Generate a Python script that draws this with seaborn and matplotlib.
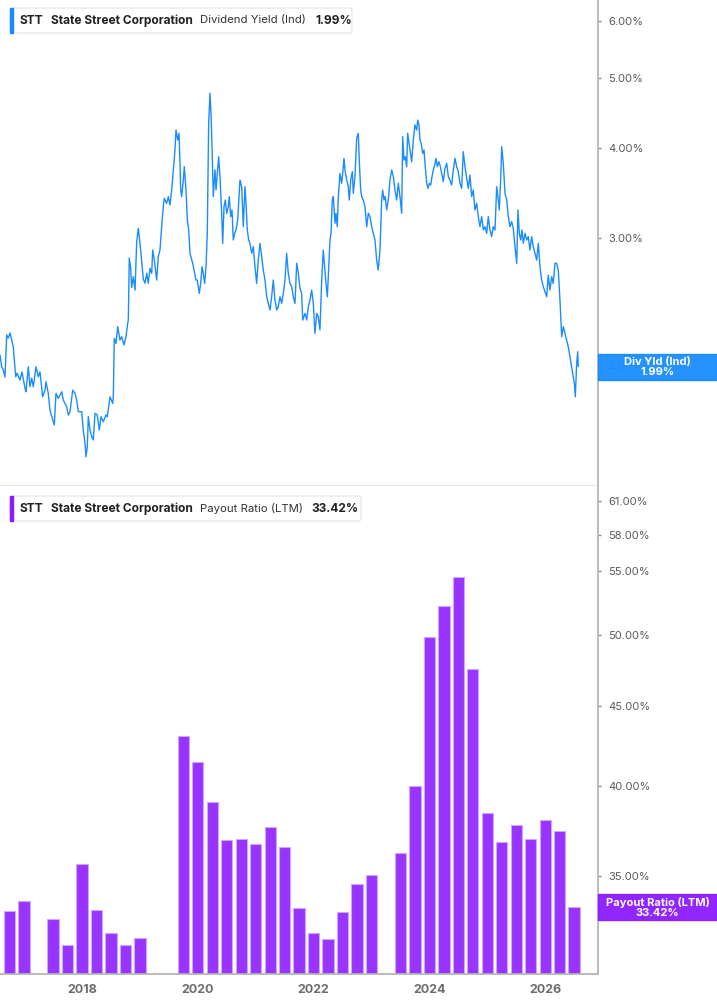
import matplotlib
matplotlib.use('Agg')
import matplotlib.pyplot as plt
import seaborn as sns
from matplotlib.patches import Rectangle, FancyBboxPatch
from matplotlib.ticker import FixedLocator, NullLocator, FuncFormatter

# Dividend yield (Ind), % -- decimal year
div_dates = [
    2016.584, 2016.613, 2016.641, 2016.670, 2016.700, 2016.727, 2016.757, 2016.786, 2016.814, 2016.855,
    2016.878, 2016.929, 2016.964, 2017.016, 2017.033, 2017.073, 2017.102, 2017.131, 2017.159, 2017.206,
    2017.245, 2017.275, 2017.321, 2017.361, 2017.378, 2017.418, 2017.447, 2017.494, 2017.522, 2017.551,
    2017.591, 2017.650, 2017.677, 2017.736, 2017.764, 2017.793, 2017.840, 2017.879, 2017.909, 2017.936,
    2017.995, 2018.022, 2018.052, 2018.069, 2018.092, 2018.109, 2018.138, 2018.168, 2018.195, 2018.225,
    2018.264, 2018.299, 2018.328, 2018.368, 2018.415, 2018.437, 2018.484, 2018.530, 2018.541, 2018.558,
    2018.587, 2018.617, 2018.656, 2018.686, 2018.726, 2018.760, 2018.789, 2018.800, 2018.817, 2018.841,
    2018.858, 2018.886, 2018.916, 2018.945, 2018.973, 2019.002, 2019.031, 2019.059, 2019.088, 2019.117,
    2019.145, 2019.174, 2019.204, 2019.221, 2019.249, 2019.290, 2019.318, 2019.347, 2019.376, 2019.404,
    2019.421, 2019.463, 2019.491, 2019.520, 2019.549, 2019.577, 2019.606, 2019.624, 2019.653, 2019.676,
    2019.693, 2019.705, 2019.722, 2019.750, 2019.767, 2019.796, 2019.819, 2019.843, 2019.865, 2019.912,
    2019.935, 2019.969, 2019.992, 2020.026, 2020.050, 2020.073, 2020.095, 2020.119, 2020.142, 2020.164,
    2020.188, 2020.211, 2020.228, 2020.246, 2020.268, 2020.297, 2020.315, 2020.337, 2020.361, 2020.383,
    2020.413, 2020.430, 2020.453, 2020.475, 2020.499, 2020.527, 2020.544, 2020.568, 2020.591, 2020.613,
    2020.637, 2020.660, 2020.689, 2020.712, 2020.729, 2020.758, 2020.786, 2020.815, 2020.833, 2020.855,
    2020.879, 2020.901, 2020.931, 2020.959, 2020.988, 2021.017, 2021.045, 2021.074, 2021.104, 2021.131,
    2021.161, 2021.190, 2021.218, 2021.247, 2021.276, 2021.304, 2021.333, 2021.363, 2021.390, 2021.420,
    2021.449, 2021.477, 2021.506, 2021.535, 2021.563, 2021.592, 2021.622, 2021.649, 2021.679, 2021.708,
    2021.736, 2021.765, 2021.794, 2021.812, 2021.852, 2021.881, 2021.909, 2021.938, 2021.967, 2021.995,
    2022.024, 2022.054, 2022.081, 2022.110, 2022.140, 2022.167, 2022.185, 2022.214, 2022.237, 2022.254,
    2022.283, 2022.301, 2022.323, 2022.340, 2022.370, 2022.387, 2022.409, 2022.427, 2022.456, 2022.485,
    2022.503, 2022.525, 2022.542, 2022.572, 2022.599, 2022.617, 2022.641, 2022.669, 2022.686, 2022.715,
    2022.744, 2022.772, 2022.789, 2022.813, 2022.831, 2022.858, 2022.888, 2022.917, 2022.945, 2022.974,
    2023.003, 2023.031, 2023.060, 2023.089, 2023.117, 2023.147, 2023.176, 2023.193, 2023.216, 2023.238,
    2023.262, 2023.290, 2023.319, 2023.349, 2023.377, 2023.406, 2023.435, 2023.463, 2023.492, 2023.521,
    2023.539, 2023.561, 2023.584, 2023.608, 2023.625, 2023.648, 2023.665, 2023.694, 2023.722, 2023.751,
    2023.781, 2023.798, 2023.820, 2023.837, 2023.860, 2023.884, 2023.907, 2023.929, 2023.953, 2023.976,
    2023.998, 2024.022, 2024.045, 2024.068, 2024.092, 2024.114, 2024.137, 2024.161, 2024.183, 2024.213,
    2024.240, 2024.270, 2024.299, 2024.327, 2024.355, 2024.385, 2024.412, 2024.442, 2024.471, 2024.499,
    2024.528, 2024.557, 2024.585, 2024.615, 2024.644, 2024.672, 2024.701, 2024.730, 2024.758, 2024.787,
    2024.817, 2024.844, 2024.873, 2024.903, 2024.931, 2024.960, 2024.990, 2025.017, 2025.046, 2025.076,
    2025.103, 2025.133, 2025.162, 2025.190, 2025.207, 2025.231, 2025.249, 2025.276, 2025.306, 2025.335,
    2025.363, 2025.392, 2025.421, 2025.449, 2025.478, 2025.508, 2025.530, 2025.553, 2025.577, 2025.599,
    2025.622, 2025.651, 2025.681, 2025.708, 2025.737, 2025.767, 2025.794, 2025.824, 2025.853, 2025.881,
    2025.910, 2025.939, 2025.967, 2025.996, 2026.026, 2026.053, 2026.082, 2026.112, 2026.139, 2026.169,
    2026.198, 2026.226, 2026.255, 2026.285, 2026.313, 2026.342, 2026.371, 2026.399, 2026.428, 2026.457,
    2026.485, 2026.503, 2026.520, 2026.544, 2026.561, 2026.572,
]
div_yield = [
    2.065, 1.989, 1.968, 1.925, 2.202, 2.180, 2.216, 2.166, 2.118, 1.926,
    1.949, 1.906, 1.956, 1.858, 1.836, 1.989, 1.866, 1.918, 1.866, 1.989,
    1.926, 1.957, 1.807, 1.846, 1.896, 1.827, 1.732, 1.678, 1.652, 1.827,
    1.798, 1.836, 1.788, 1.750, 1.705, 1.723, 1.846, 1.827, 1.788, 1.723,
    1.723, 1.625, 1.557, 1.492, 1.541, 1.696, 1.625, 1.591, 1.574, 1.714,
    1.705, 1.625, 1.696, 1.669, 1.705, 1.696, 1.807, 1.769, 1.807, 2.178,
    2.143, 2.261, 2.166, 2.190, 2.132, 2.190, 2.285, 2.309, 2.815, 2.727,
    2.562, 2.652, 2.541, 2.966, 3.096, 2.950, 2.782, 2.632, 2.597, 2.681,
    2.597, 2.724, 2.681, 2.888, 2.797, 2.624, 2.827, 2.888, 3.112, 3.317,
    3.407, 3.353, 3.425, 3.335, 3.498, 3.729, 3.975, 4.237, 4.104, 4.193,
    3.810, 3.498, 3.425, 3.612, 3.769, 3.498, 3.179, 3.079, 2.858, 2.768,
    2.709, 2.624, 2.624, 2.515, 2.596, 2.738, 2.681, 2.596, 2.738, 3.046,
    4.329, 4.765, 4.469, 4.018, 3.425, 3.729, 3.498, 3.689, 3.891, 3.651,
    3.247, 2.950, 3.317, 3.388, 3.247, 3.317, 3.425, 3.213, 3.282, 2.982,
    3.046, 3.079, 3.179, 3.425, 3.612, 3.536, 3.112, 3.536, 3.353, 3.079,
    2.982, 2.950, 2.858, 2.919, 2.738, 2.596, 2.797, 2.950, 2.827, 2.709,
    2.624, 2.488, 2.436, 2.384, 2.488, 2.624, 2.462, 2.384, 2.410, 2.488,
    2.436, 2.515, 2.624, 2.858, 2.681, 2.596, 2.569, 2.488, 2.436, 2.768,
    2.681, 2.557, 2.515, 2.309, 2.359, 2.309, 2.410, 2.462, 2.541, 2.436,
    2.213, 2.359, 2.334, 2.237, 2.624, 2.888, 2.768, 2.596, 2.488, 2.652,
    2.982, 3.046, 3.388, 3.425, 3.146, 3.247, 3.112, 3.425, 3.689, 3.574,
    3.689, 3.871, 3.729, 3.612, 3.536, 3.388, 3.612, 3.709, 3.461, 3.651,
    4.126, 4.193, 3.850, 3.498, 3.425, 3.388, 3.317, 3.112, 3.247, 3.213,
    3.112, 3.046, 2.982, 2.797, 2.709, 2.888, 3.388, 3.498, 3.388, 3.425,
    3.282, 3.388, 3.612, 3.729, 3.651, 3.498, 3.388, 3.574, 3.425, 3.247,
    4.148, 3.850, 3.891, 3.769, 4.193, 4.060, 3.975, 3.829, 4.104, 4.306,
    4.237, 4.375, 4.306, 4.104, 4.060, 3.933, 3.975, 3.769, 3.574, 3.517,
    3.574, 3.555, 3.651, 3.729, 3.789, 3.871, 3.769, 3.829, 3.789, 3.689,
    3.592, 3.750, 3.810, 3.651, 3.612, 3.555, 3.729, 3.871, 3.769, 3.709,
    3.574, 3.517, 3.954, 3.769, 3.632, 3.517, 3.670, 3.425, 3.498, 3.282,
    3.353, 3.213, 3.112, 3.213, 3.079, 3.112, 3.046, 3.213, 3.079, 3.014,
    3.112, 3.079, 3.536, 3.388, 3.282, 3.612, 4.018, 3.810, 3.461, 3.388,
    3.213, 3.112, 3.162, 3.096, 2.919, 2.768, 3.282, 3.046, 2.982, 3.079,
    2.950, 3.046, 2.982, 3.014, 2.888, 3.014, 2.919, 2.858, 2.797, 2.950,
    2.738, 2.624, 2.569, 2.528, 2.488, 2.666, 2.541, 2.652, 2.596, 2.768,
    2.768, 2.709, 2.462, 2.190, 2.261, 2.213, 2.166, 2.120, 2.053, 1.989,
    1.926, 1.886, 1.807, 2.011, 2.087, 1.990,
]

# Payout ratio (LTM), % -- quarterly
pay_dates = [
    2016.75, 2017.00, 2017.50, 2017.75, 2018.00, 2018.25, 2018.50, 2018.75, 2019.00,
    2019.75, 2020.00, 2020.25, 2020.50, 2020.75, 2021.00, 2021.25, 2021.50, 2021.75,
    2022.00, 2022.25, 2022.50, 2022.75, 2023.00, 2023.50, 2023.75, 2024.00, 2024.25,
    2024.50, 2024.75, 2025.00, 2025.25, 2025.50, 2025.75, 2026.00, 2026.25, 2026.50,
]
pay_ratio = [
    33.23, 33.71, 32.85, 31.60, 35.61, 33.27, 32.18, 31.61, 31.91,
    43.05, 41.46, 39.07, 36.90, 36.96, 36.71, 37.64, 36.54, 33.38,
    32.15, 31.88, 33.17, 34.59, 35.04, 36.20, 39.99, 49.87, 52.19,
    54.49, 47.56, 38.42, 36.81, 37.75, 36.97, 38.03, 37.41, 33.42,
]

yield_ticks = [2, 3, 4, 5, 6]
payout_ticks = [35, 40, 45, 50, 55, 58, 61]
year_ticks = [2018, 2020, 2022, 2024, 2026]
last_yield = 1.99
last_payout = 33.42

blue = '#1a8cff'
purple = '#9933ff'
purple_tag = '#8c1aff'

sns.set_style('white')
plt.rcParams['font.family'] = ['Inter', 'DejaVu Sans']

W, H = 717, 1005
fig = plt.figure(figsize=(W / 100, H / 100), dpi=100)


def fx(p):
    return p / W


def fy(p):
    return 1 - p / H


ax1 = fig.add_axes([0, fy(486), fx(598), 486 / H])
ax2 = fig.add_axes([0, fy(974), fx(598), (974 - 486) / H])

x_min, x_max = 2016.584, 2026.912

# top: dividend yield line
sns.lineplot(x=div_dates, y=div_yield, ax=ax1, color=blue, linewidth=1.0)
ax1.set_yscale('log')
ax1.set_ylim(1.359, 6.419)
ax1.set_xlim(x_min, x_max)

# bottom: payout ratio bars (linear first, then log axis)
sns.barplot(x=pay_dates, y=pay_ratio, native_scale=True, ax=ax2, color=purple,
            saturation=1, edgecolor='#cfa6ff', linewidth=0.8, width=0.78,
            errorbar=None)
ax2.set_yscale('log')
ax2.set_ylim(30.27, 62.37)
ax2.set_xlim(x_min, x_max)

pct = FuncFormatter(lambda v, _: f'{v:.2f}%')
for ax, ticks in ((ax1, yield_ticks), (ax2, payout_ticks)):
    ax.set_xlabel('')
    ax.set_ylabel('')
    ax.yaxis.tick_right()
    ax.yaxis.set_major_locator(FixedLocator(ticks))
    ax.yaxis.set_minor_locator(NullLocator())
    ax.yaxis.set_major_formatter(pct)
    ax.tick_params(axis='y', which='major', direction='out', length=2.5, width=1,
                   color='#888888', labelcolor='#5a5a5a', labelsize=8, pad=5)
    for s in ('top', 'left'):
        ax.spines[s].set_visible(False)
    ax.spines['right'].set_color('#b5b5b5')
    ax.spines['right'].set_linewidth(1.3)

ax1.set_xticks([])
ax1.spines['bottom'].set_color('#e4e4e4')
ax1.spines['bottom'].set_linewidth(1.6)

ax2.xaxis.set_major_locator(FixedLocator(year_ticks))
ax2.xaxis.set_minor_locator(NullLocator())
ax2.set_xticklabels([str(y) for y in year_ticks])
ax2.tick_params(axis='x', direction='out', length=4, width=1, color='#888888',
                labelcolor='#6b6b6b', labelsize=9, pad=3)
for lab in ax2.get_xticklabels():
    lab.set_fontweight('bold')
ax2.spines['bottom'].set_color('#b5b5b5')
ax2.spines['bottom'].set_linewidth(1.3)


def header(top, bottom, right, accent, parts):
    fig.add_artist(FancyBboxPatch((fx(10), fy(bottom)), fx(right) - fx(10), fy(top) - fy(bottom),
                                  boxstyle='round,pad=0,rounding_size=0.003',
                                  transform=fig.transFigure, facecolor='white',
                                  edgecolor='#e3e3e3', linewidth=0.8))
    fig.add_artist(Rectangle((fx(10), fy(bottom)), fx(13) - fx(10), fy(top) - fy(bottom),
                             transform=fig.transFigure, color=accent))
    yc = fy((top + bottom) / 2)
    for x, s, w, c, size in parts:
        fig.text(fx(x), yc, s, fontsize=size, fontweight=w, color=c, ha='left', va='center')


header(8, 33, 352, blue, [
    (20, 'STT', 'bold', '#222222', 8.6),
    (51, 'State Street Corporation', 'bold', '#222222', 8.6),
    (200, 'Dividend Yield (Ind)', 'normal', '#333333', 8.2),
    (316, f'{last_yield:.2f}%', 'bold', '#222222', 8.6),
])
header(496, 521, 361, purple_tag, [
    (20, 'STT', 'bold', '#222222', 8.6),
    (51, 'State Street Corporation', 'bold', '#222222', 8.6),
    (200, 'Payout Ratio (LTM)', 'normal', '#333333', 8.2),
    (311, f'{last_payout:.2f}%', 'bold', '#222222', 8.6),
])


def value_tag(ax, value, color, text):
    ydisp = ax.transData.transform((x_min, value))[1]
    yc = ydisp / H
    h = 26 / H
    fig.add_artist(Rectangle((fx(598), yc - h / 2), fx(717) - fx(598), h,
                             transform=fig.transFigure, color=color, alpha=0.95))
    fig.text(fx(657.5), yc, text, fontsize=8, fontweight='bold', color='white',
             ha='center', va='center', linespacing=1.0)


value_tag(ax1, last_yield, blue, f'Div Yld (Ind)\n{last_yield:.2f}%')
value_tag(ax2, last_payout, purple_tag, f'Payout Ratio (LTM)\n{last_payout:.2f}%')

fig.savefig('out.png', dpi=100)
